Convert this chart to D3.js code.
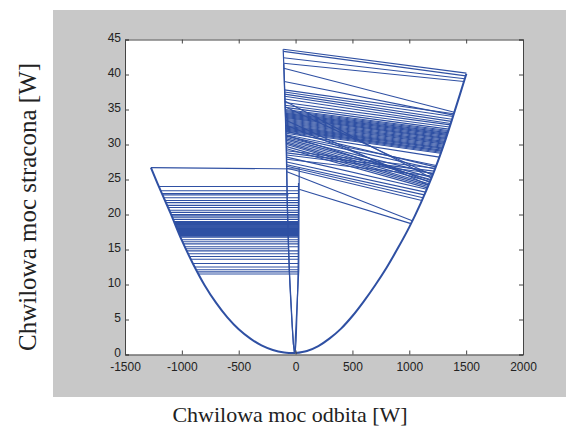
<!DOCTYPE html>
<html>
<head>
<meta charset="utf-8">
<script src="https://cdn.jsdelivr.net/npm/d3@7"></script>
<style>
  body { margin: 0; background: #fff; }
  .tick text { font-family: "Liberation Sans", Arial, sans-serif; font-size: 12px; fill: #222; }
  .axis path, .axis line { stroke: #444; }
</style>
</head>
<body>
<script>
// ---- data ----
var xTicks = [-1500, -1000, -500, 0, 500, 1000, 1500, 2000];
var yTicks = [0, 5, 10, 15, 20, 25, 30, 35, 40, 45];

// parabola branches [x, y]
var curveLeft = [[-1272,26.7],[-1200,23.9],[-1100,20.2],[-1000,16.3],[-900,12.9],[-800,9.9],
  [-700,7.4],[-600,5.3],[-500,3.6],[-400,2.3],[-300,1.3],[-200,0.65],[-100,0.3],[0,0.2]];
var curveRight = [[0,0.2],[100,0.5],[200,1.2],[300,2.3],[400,3.7],[500,5.5],[600,7.6],
  [700,9.9],[800,12.4],[900,15.2],[1000,18.2],[1100,21.6],[1200,25.4],[1300,29.8],
  [1400,34.8],[1502,40.1]];

// near-vertical lines close to x = 0
var spineLeft = [[-109,43.6],[-100,40],[-90,35],[-80,30],[-74,22],[-62,15],[-50,10],[-30,4],[-12,0.2]];
var spineLeft2 = [[-104,41.5],[-86,32],[-70,20],[-55,12],[-20,1.5],[-5,0.2]];
var spineRight = [[32,26.6],[30,20],[28,12],[18,8.8],[-8,0.3]];
var spineRight2 = [[26,24.5],[24,14],[20,10],[5,2],[-4,0.3]];

// left lines [xLeft, yLeft, xRight, yRight]
var leftLines = [
  [-1272,26.7,32,26.5],
  [-1202,24.0,28,24.0],[-1186,23.4,28,23.4],[-1175,23.0,28,23.0],[-1170,22.8,-62,22.8],
  [-1159,22.4,28,22.4],[-1149,22.0,28,22.0],[-1140,21.7,28,21.7],[-1130,21.3,28,21.3],
  [-1122,21.0,28,21.0],[-1111,20.6,28,20.6],[-1103,20.3,28,20.3],[-1095,20.0,28,20.0],
  [-1090,19.8,28,19.8],[-1085,19.6,28,19.6],[-1077,19.3,28,19.3],
  [-1069,19.0,28,19.0],[-1067,18.92,28,18.92],[-1065,18.85,28,18.85],[-1063,18.78,28,18.78],
  [-1062,18.7,28,18.7],[-1060,18.62,28,18.62],[-1058,18.55,28,18.55],[-1056,18.48,28,18.48],
  [-1054,18.4,28,18.4],[-1052,18.32,28,18.32],[-1050,18.25,28,18.25],[-1048,18.18,28,18.18],
  [-1046,18.1,28,18.1],[-1044,18.02,28,18.02],[-1042,17.95,28,17.95],[-1040,17.88,28,17.88],
  [-1038,17.8,28,17.8],[-1036,17.72,28,17.72],[-1035,17.65,28,17.65],[-1033,17.58,28,17.58],
  [-1031,17.5,28,17.5],[-1029,17.42,28,17.42],[-1027,17.35,28,17.35],[-1025,17.28,28,17.28],
  [-1023,17.2,28,17.2],[-1021,17.12,28,17.12],[-1019,17.05,28,17.05],[-1017,16.98,28,16.98],
  [-1015,16.9,28,16.9],[-1012,16.75,28,16.75],
  [-1003,16.4,28,16.4],[-994,16.1,28,16.1],[-985,15.8,28,15.8],[-974,15.4,28,15.4],
  [-965,15.1,-60,15.1],[-956,14.8,28,14.8],[-944,14.4,28,14.4],[-932,14.0,28,14.0],
  [-921,13.6,28,13.6],[-903,13.0,28,13.0],[-887,12.5,28,12.5],[-873,12.1,28,12.1],
  [-863,11.8,28,11.8],[-853,11.5,28,11.5]
];

// right lines [xInner, yInner, xOuter, yOuter]
var rightLines = [
  [-108,43.6,1502,40.2],[-107,43.3,1496,39.8],[-106,42.4,1488,39.4],[-105,41.6,1481,39.0],
  [-104,40.9,1396,34.6],[-100,39.0,1388,34.2],[-98,37.8,1392,34.4],[-97,37.5,1384,34.0],
  [-96,37.2,1376,33.6],[-96,36.9,1370,33.3],[-95,36.5,1364,33.0],[-94,36.0,1360,32.8],
  [-93,35.6,1354,32.5],[-92,35.3,1348,32.2],
  [-92,35.0,1344,32.0],[-92,34.86,1341,31.85],[-91,34.72,1338,31.7],[-91,34.58,1336,31.58],
  [-91,34.44,1333,31.45],[-90,34.3,1330,31.3],[-90,34.16,1327,31.15],[-90,34.02,1324,31.0],
  [-89,33.88,1322,30.88],[-89,33.74,1319,30.75],[-89,33.6,1316,30.6],[-88,33.46,1313,30.45],
  [-88,33.32,1310,30.3],[-88,33.18,1308,30.18],[-87,33.04,1305,30.05],[-87,32.9,1302,29.9],
  [-87,32.76,1299,29.75],[-86,32.62,1295,29.6],[-86,32.48,1293,29.48],[-86,32.34,1290,29.35],
  [-85,32.2,1286,29.2],[-85,32.06,1283,29.05],[-85,31.92,1280,28.9],[-84,31.78,1276,28.75],
  [-82,31.6,1264,28.2],[-82,31.4,1236,27.0],[-81,31.2,1225,26.5],[-81,31.0,1209,25.8],
  [-81,30.8,1197,25.3],[-80,30.6,1189,25.0],[-80,30.4,1182,24.7],[-80,30.2,1174,24.4],
  [-80,30.0,1168,24.2],[-79,29.7,1163,24.0],[-79,29.4,1158,23.8],[-79,29.1,1227,26.6],
  [-79,28.8,1218,26.2],[-78,28.5,1211,25.9],[-78,28.2,1153,23.6],[-78,27.9,1202,25.5],
  [-78,27.5,1142,23.2],[-77,27.1,1132,22.8],[-77,26.9,1121,22.4],[-77,26.6,1111,22.0],
  [-95,36.2,1195,25.2],[-90,33.5,1168,24.2],[-93,35.4,1205,25.6],[-88,32.8,1179,24.6],
  [-84,31.9,1230,26.8],[-83,31.3,1186,24.9],
  [-76,26.1,1026,19.1],[30,23.6,1015,18.7]
];

// ---- layout ----
var svgWidth = 566;
var svgHeight = 432;
var plot = { left: 125, right: 523, top: 39.5, bottom: 354.5 };

var svg = d3.select("body").append("svg")
  .attr("width", svgWidth)
  .attr("height", svgHeight);

// gray figure background
svg.append("rect")
  .attr("x", 53).attr("y", 10)
  .attr("width", svgWidth - 53).attr("height", 387)
  .attr("fill", "#c8c8c8");

svg.append("rect")
  .attr("x", plot.left).attr("y", plot.top)
  .attr("width", plot.right - plot.left).attr("height", plot.bottom - plot.top)
  .attr("fill", "#fff");

var xScale = d3.scaleLinear().domain([-1500, 2000]).range([plot.left, plot.right]);
var yScale = d3.scaleLinear().domain([0, 45]).range([plot.bottom, plot.top]);

var chart = svg.append("g");
var lineColor = "#2f50a3";
var line = d3.line().x(d => xScale(d[0])).y(d => yScale(d[1]));
var smooth = d3.line().x(d => xScale(d[0])).y(d => yScale(d[1])).curve(d3.curveCatmullRom);

chart.selectAll(".lseg")
  .data(leftLines.concat(rightLines))
  .enter().append("line")
  .attr("x1", d => xScale(d[0])).attr("y1", d => yScale(d[1]))
  .attr("x2", d => xScale(d[2])).attr("y2", d => yScale(d[3]))
  .attr("stroke", lineColor).attr("stroke-width", 1.1);

[spineLeft, spineLeft2, spineRight, spineRight2].forEach(function(s) {
  chart.append("path").datum(s)
    .attr("d", line).attr("fill", "none")
    .attr("stroke", lineColor).attr("stroke-width", 1.2);
});

[curveLeft, curveRight].forEach(function(c) {
  chart.append("path").datum(c)
    .attr("d", smooth)
    .attr("fill", "none")
    .attr("stroke", lineColor).attr("stroke-width", 2);
});

// ---- axes (MATLAB style box, ticks inside) ----
svg.append("g").attr("class", "axis")
  .attr("transform", `translate(0, ${plot.bottom})`)
  .call(d3.axisBottom(xScale).tickValues(xTicks).tickSize(-4).tickPadding(7.5).tickFormat(d3.format("d")));
svg.append("g").attr("class", "axis")
  .attr("transform", `translate(0, ${plot.top})`)
  .call(d3.axisTop(xScale).tickValues(xTicks).tickSize(-4).tickFormat(""));
svg.append("g").attr("class", "axis y-left")
  .attr("transform", `translate(${plot.left}, 0)`)
  .call(d3.axisLeft(yScale).tickValues(yTicks).tickSize(-4).tickPadding(4));
svg.append("g").attr("class", "axis")
  .attr("transform", `translate(${plot.right}, 0)`)
  .call(d3.axisRight(yScale).tickValues(yTicks).tickSize(-4).tickFormat(""));

svg.selectAll(".axis .domain").attr("stroke", "#444");
svg.selectAll(".y-left .tick text").attr("dy", "0.2em");
// use ascii hyphen like the original labels
svg.selectAll(".tick text").text(function() { return this.textContent.replace("\u2212", "-"); });

// ---- titles ----
svg.append("text")
  .attr("x", 290).attr("y", 422)
  .attr("text-anchor", "middle")
  .style("font-family", "'Liberation Serif', 'Times New Roman', serif")
  .style("font-size", "22px")
  .attr("fill", "#222")
  .text("Chwilowa moc odbita [W]");

svg.append("text")
  .attr("transform", "translate(36, 207) rotate(-90)")
  .attr("text-anchor", "middle")
  .style("font-family", "'Liberation Serif', 'Times New Roman', serif")
  .style("font-size", "25px")
  .attr("fill", "#222")
  .text("Chwilowa moc stracona [W]");
</script>
</body>
</html>
